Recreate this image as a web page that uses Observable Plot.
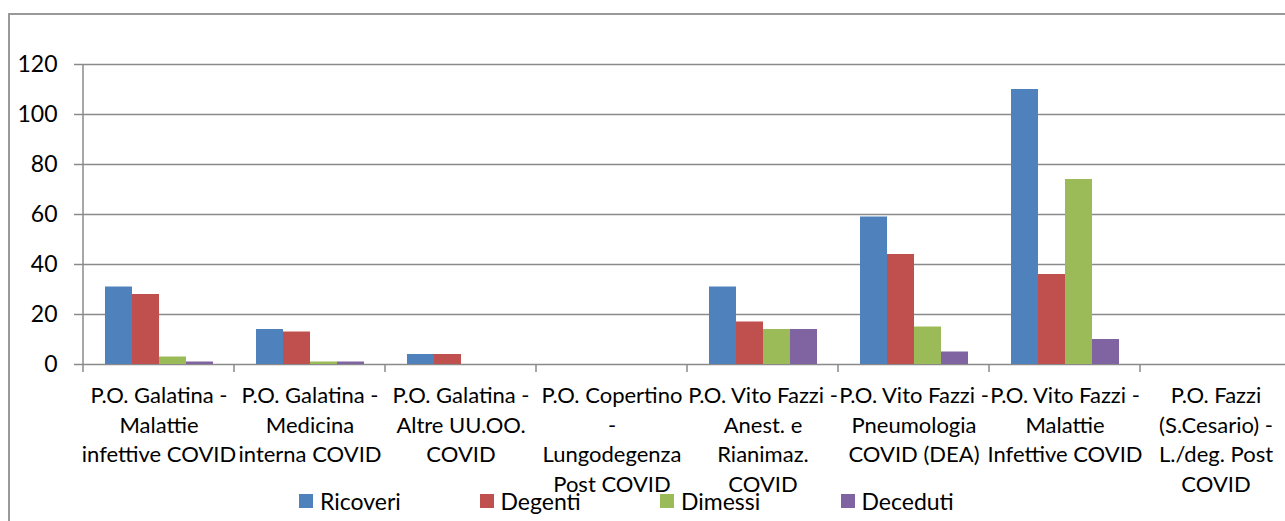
<!DOCTYPE html>
<html><head><meta charset="utf-8">
<script src="https://cdn.jsdelivr.net/npm/d3@7"></script>
<script src="https://cdn.jsdelivr.net/npm/@observablehq/plot@0.6"></script>
<style>
html,body{margin:0;padding:0;overflow:hidden;background:#fff;width:1285px;height:521px;}
#wrap{position:relative;width:1285px;height:521px;overflow:hidden;font-family:Lato,sans-serif;}
#border{position:absolute;left:8px;top:13px;width:2000px;height:2000px;border-left:2px solid #999;border-top:2px solid #999;}
#chart{position:absolute;left:0;top:0;width:1300px;}
#chart svg{max-width:none !important;}
#legend{position:absolute;top:487px;left:299px;display:flex;font-size:23px;line-height:28px;color:#000;}
#legend .item{width:180.5px;display:flex;align-items:center;white-space:nowrap;}
#legend .sw{width:14px;height:14px;margin-right:7px;flex:none;}
</style></head>
<body><div id="wrap"><div id="border"></div><div id="chart"></div><div id="legend"></div></div>
<script>
const categories = [
  "P.O. Galatina -\nMalattie\ninfettive COVID",
  "P.O. Galatina -\nMedicina\ninterna COVID",
  "P.O. Galatina -\nAltre UU.OO.\nCOVID",
  "P.O. Copertino\n-\nLungodegenza\nPost COVID",
  "P.O. Vito Fazzi -\nAnest. e\nRianimaz.\nCOVID",
  "P.O. Vito Fazzi -\nPneumologia\nCOVID (DEA)",
  "P.O. Vito Fazzi -\nMalattie\nInfettive COVID",
  "P.O. Fazzi\n(S.Cesario) -\nL./deg. Post\nCOVID"
];
const series = ["Ricoveri", "Degenti", "Dimessi", "Deceduti"];
const ricoveri = [31, 14, 4, 0, 31, 59, 110, 0];
const degenti  = [28, 13, 4, 0, 17, 44, 36, 0];
const dimessi  = [3, 1, 0, 0, 14, 15, 74, 0];
const deceduti = [1, 1, 0, 0, 14, 5, 10, 0];
const colors = ["#4F81BD", "#C0504D", "#9BBB59", "#8064A2"];
const yTicks = [0, 20, 40, 60, 80, 100, 120];

const seriesValues = [ricoveri, degenti, dimessi, deceduti];
const data = categories.flatMap((c, i) => series.map((s, j) => ({category: c, series: s, value: seriesValues[j][i]})));

const plot = Plot.plot({
  width: 1300, height: 521,
  marginTop: 64, marginBottom: 157, marginLeft: 79, marginRight: 6,
  style: {fontFamily: "Lato, sans-serif", background: "transparent", color: "#000", maxWidth: "none"},
  fx: {domain: categories, padding: 0, label: null},
  x: {domain: series, paddingInner: 0, paddingOuter: 0.75, axis: null},
  y: {domain: [0, 120], label: null},
  color: {domain: series, range: colors},
  marks: [
    Plot.ruleY(yTicks, {stroke: "#8a8a8a", strokeWidth: 1.5}),
    Plot.barY(data, {fx: "category", x: "series", y: "value", fill: "series"}),
    Plot.axisY({ticks: yTicks, tickSize: 9, tickPadding: 17, fontSize: 23, stroke: "#8a8a8a", strokeWidth: 1.5, fill: "#000", label: null}),
    Plot.axisFx({anchor: "bottom", tickSize: 0, tickPadding: 18, fontSize: 22, lineHeight: 1.34, fill: "#000", label: null})
  ]
});
document.getElementById("chart").appendChild(plot);

// category boundary ticks and y axis line, from the plot's own scales
const fx = plot.scale("fx"), y = plot.scale("y");
const y0 = y.apply(0), yTop = y.apply(120);
const g = d3.select(plot).append("g").attr("stroke", "#8a8a8a").attr("stroke-width", 1.5);
const edges = categories.map(c => fx.apply(c));
edges.push(fx.apply(categories[categories.length - 1]) + fx.bandwidth);
edges.forEach((xe, i) => {
  g.append("line").attr("x1", xe).attr("x2", xe).attr("y1", i === 0 ? yTop : y0).attr("y2", y0 + 8);
});

// legend from color scale
const color = plot.scale("color");
const legend = document.getElementById("legend");
color.domain.forEach((s, i) => {
  const item = document.createElement("div");
  item.className = "item";
  const sw = document.createElement("span");
  sw.className = "sw";
  sw.style.background = color.range[i];
  item.appendChild(sw);
  item.appendChild(document.createTextNode(s));
  legend.appendChild(item);
});
</script>
</body></html>
